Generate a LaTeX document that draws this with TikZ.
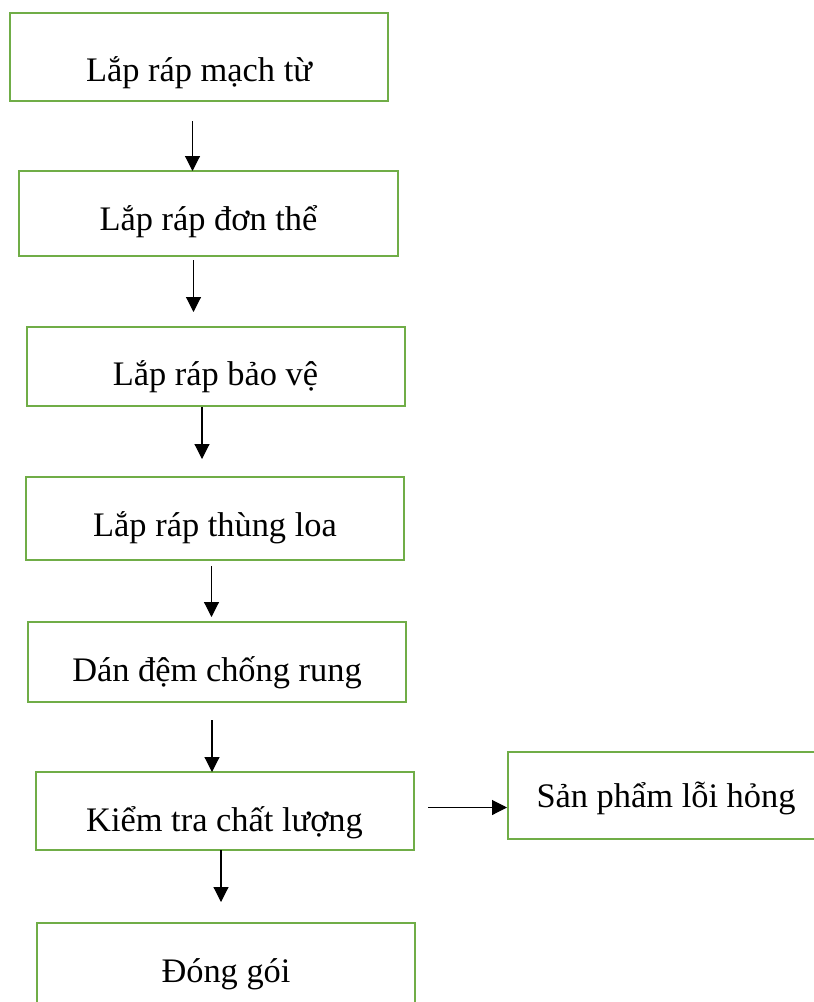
\documentclass[tikz,border=0pt]{standalone}
\usepackage{fontspec}
\setmainfont{Liberation Serif}
\usetikzlibrary{arrows.meta}
\definecolor{boxgreen}{HTML}{70AD47}
\tikzset{
  stepbox/.style={draw=boxgreen, line width=2pt, rectangle, inner sep=0pt},
  steptext/.style={anchor=base, inner sep=0pt, font=\fontsize{34.4}{40}\selectfont},
  flow/.style={draw=black, line width=1.1pt, -{Triangle[width=15pt,length=15pt]}}
}
\newcommand{\stepnode}[6]{% name, left, top, right, bottom, text
  \node[stepbox, minimum width={(#4-#2)*1pt}, minimum height={(#5-#3)*1pt}]
    (#1) at ({(#2+#4)/2}, {(#3+#5)/2}) {};
}
\begin{document}
\begin{tikzpicture}[x=1pt, y=-1pt]
  \clip (0,0) rectangle (814,1002);
  \fill[white] (0,0) rectangle (814,1002);

  % process boxes
  \stepnode{b1}{9.5}{12.5}{388}{100.5}{}
  \stepnode{b2}{19}{171}{397.5}{256}{}
  \stepnode{b3}{27}{326.5}{404.5}{406}{}
  \stepnode{b4}{26}{477}{404}{560}{}
  \stepnode{b5}{28}{621.5}{406}{702}{}
  \stepnode{b6}{35.5}{771.5}{413.5}{850}{}
  \stepnode{b7}{37}{923}{415}{1012}{}
  \stepnode{b8}{508}{752}{826}{839}{}

  % box labels
  \node[steptext] (t1) at (199,81) {Lắp ráp mạch từ};
  \node[steptext] (t2) at (208.5,230) {Lắp ráp đơn thể};
  \node[steptext] (t3) at (215.5,385) {Lắp ráp bảo vệ};
  \node[steptext] (t4) at (215,536) {Lắp ráp thùng loa};
  \node[steptext] (t5) at (217,681) {Dán đệm chống rung};
  \node[steptext] (t6) at (224.5,831) {Kiểm tra chất lượng};
  \node[steptext] (t7) at (226,982) {Đóng gói};
  \node[steptext] (t8) at (666,807) {Sản phẩm lỗi hỏng};

  % arrow end points
  \coordinate (a1s) at (192.5,121);  \coordinate (a1e) at (192.5,171);
  \coordinate (a2s) at (193.5,260);  \coordinate (a2e) at (193.5,312);
  \coordinate (a3s) at (202,407);    \coordinate (a3e) at (202,459);
  \coordinate (a4s) at (211.5,566);  \coordinate (a4e) at (211.5,617);
  \coordinate (a5s) at (212,720);    \coordinate (a5e) at (212,772);
  \coordinate (a6s) at (221,850);    \coordinate (a6e) at (221,902);
  \coordinate (a7s) at (428,807.5);

  \draw[flow] (a1s) -- (a1e);
  \draw[flow] (a2s) -- (a2e);
  \draw[flow] (a3s) -- (a3e);
  \draw[flow] (a4s) -- (a4e);
  \draw[flow] (a5s) -- (a5e);
  \draw[flow] (a6s) -- (a6e);
  \draw[flow] (a7s) -- (a7s -| b8.west);
\end{tikzpicture}
\end{document}
